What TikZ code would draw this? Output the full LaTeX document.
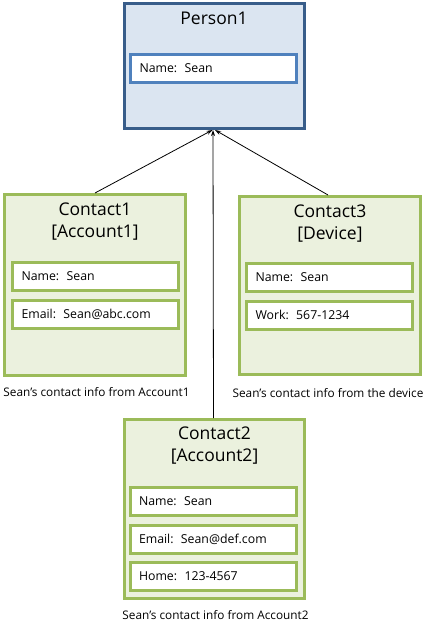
\documentclass[tikz,border=0pt]{standalone}
\usepackage{fontspec}
\setmainfont{Open Sans}
\usetikzlibrary{arrows.meta}
\definecolor{bluefill}{HTML}{DBE5F1}
\definecolor{blueedge}{HTML}{385D8A}
\definecolor{blueinner}{HTML}{4F81BD}
\definecolor{greenfill}{HTML}{EBF1DE}
\definecolor{greenedge}{HTML}{9BBB59}
\newcommand{\titlefont}{\fontsize{17.5}{22}\selectfont}
\newcommand{\itemfont}{\fontsize{12.3}{15}\selectfont}
\newcommand{\capfont}{\fontsize{11.8}{14}\selectfont}
\newcommand{\gap}{\hspace{0.6em}}
\begin{document}
\begin{tikzpicture}[x=1pt,y=-1pt,
  outerbox/.style={draw, rectangle, line width=3pt, inner sep=0pt, minimum width=181pt, minimum height=181pt},
  personbox/.style={outerbox, draw=blueedge, fill=bluefill, minimum width=180pt, minimum height=125pt},
  contactbox/.style={outerbox, draw=greenedge, fill=greenfill},
  itembox/.style={draw, rectangle, fill=white, line width=3pt, text width=148pt, inner xsep=9pt, inner ysep=0pt, minimum height=28pt, align=left, font=\itemfont},
  blueitem/.style={itembox, draw=blueinner},
  greenitem/.style={itembox, draw=greenedge},
  titletext/.style={font=\titlefont, align=center, inner sep=0pt},
  captext/.style={font=\capfont, inner sep=0pt},
  link/.style={draw=black, line width=0.8pt, -{Stealth[length=6pt,width=4pt]}}
]
\useasboundingbox (0,0) rectangle (426,628);

% Person1
\node[personbox] (p1) at (214,66) {};
\node[titletext] (p1t) at (214,18) {Person1};
\node[blueitem] (p1n) at (213.5,68.5) {Name:\gap Sean};

% Contact1
\node[contactbox] (c1) at (95,285) {};
\node[titletext] (c1t) at (95,222) {Contact1\\{}[Account1]};
\node[greenitem] (c1n) at (95.5,276.5) {Name:\gap Sean};
\node[greenitem] (c1e) at (95.5,314.5) {Email:\gap Sean@abc.com};
\node[captext] (c1c) at (96.5,392) {Sean's contact info from Account1};

% Contact3
\node[contactbox, minimum height=178pt] (c3) at (330,285.5) {};
\node[titletext] (c3t) at (330,223.5) {Contact3\\{}[Device]};
\node[greenitem] (c3n) at (329.5,277.5) {Name:\gap Sean};
\node[greenitem] (c3w) at (329.5,315) {Work:\gap 567-1234};
\node[captext] (c3c) at (328,393) {Sean's contact info from the device};

% Contact2
\node[contactbox, minimum width=180pt, minimum height=179pt] (c2) at (214.5,509) {};
\node[titletext] (c2t) at (214.5,445.5) {Contact2\\{}[Account2]};
\node[greenitem] (c2n) at (213,501) {Name:\gap Sean};
\node[greenitem] (c2e) at (213,539) {Email:\gap Sean@def.com};
\node[greenitem] (c2h) at (213,576.5) {Home:\gap 123-4567};
\node[captext] (c2c) at (215.5,615) {Sean's contact info from Account2};

% connectors
\draw[link] (c1.north) -- ([xshift=-1.5pt]p1.south);
\draw[link] ([xshift=-2pt]c3.north) -- ([xshift=1pt]p1.south);
\draw[link] ([xshift=-1pt]c2.north) -- ([xshift=-1pt]p1.south);
\end{tikzpicture}
\end{document}
